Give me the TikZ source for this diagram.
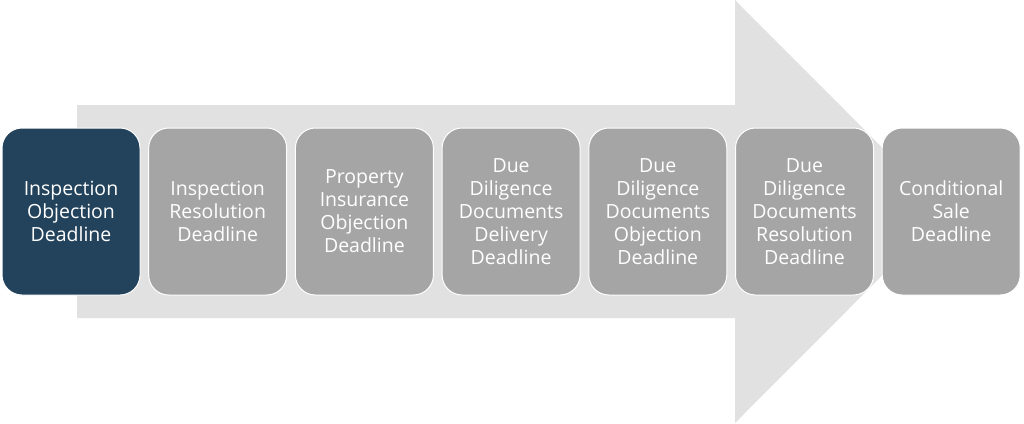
\documentclass[tikz,border=0pt]{standalone}
\usepackage{fontspec}
\setmainfont{Open Sans}
\usepackage{xcolor}
\usetikzlibrary{positioning}

\definecolor{arrowgray}{HTML}{E1E1E1}
\definecolor{boxgray}{HTML}{A5A5A5}
\definecolor{boxblue}{HTML}{23435C}

\tikzset{
  deadline/.style={draw=white, line width=1pt, fill=boxgray, rounded corners=20pt,
    minimum width=138pt, minimum height=167pt, text=white, align=center,
    inner sep=2pt, font=\fontsize{19.5}{23}\selectfont},
  current/.style={deadline, fill=boxblue}
}

\begin{document}
\begin{tikzpicture}[x=1pt, y=-1pt]
\useasboundingbox (0,0) rectangle (1024,423);

% Background arrow
\fill[arrowgray] (77,105) -- (735,105) -- (735,0) -- (946,211.5)
  -- (735,423) -- (735,318) -- (77,318) -- cycle;

% Deadlines
\node[current] (objection) at (71,211.5) {Inspection\\Objection\\Deadline};
\node[deadline, right=7.7pt of objection] (resolution) {Inspection\\Resolution\\Deadline};
\node[deadline, right=7.7pt of resolution] (insurance) {Property\\Insurance\\Objection\\Deadline};
\node[deadline, right=7.7pt of insurance] (delivery) {Due\\Diligence\\Documents\\Delivery\\Deadline};
\node[deadline, right=7.7pt of delivery] (ddobjection) {Due\\Diligence\\Documents\\Objection\\Deadline};
\node[deadline, right=7.7pt of ddobjection] (ddresolution) {Due\\Diligence\\Documents\\Resolution\\Deadline};
\node[deadline, right=7.7pt of ddresolution] (sale) {Conditional\\Sale\\Deadline};
\end{tikzpicture}
\end{document}
